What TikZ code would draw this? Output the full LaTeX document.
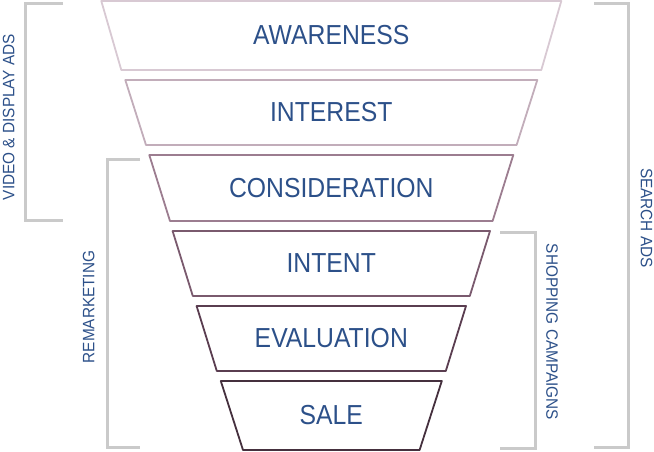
\documentclass[tikz,border=0pt]{standalone}
\usepackage{fontspec}
\setmainfont{Liberation Sans}
\newfontfamily\stagefont[FakeStretch=0.9]{Liberation Sans}
\newfontfamily\bracketfont[FakeStretch=0.93]{Liberation Sans}
\usetikzlibrary{positioning}

\definecolor{textblue}{HTML}{2C5089}
\definecolor{bracketgray}{HTML}{CACACA}
\definecolor{stageA}{HTML}{D8C9D3}
\definecolor{stageB}{HTML}{C2ADBA}
\definecolor{stageC}{HTML}{9C7D90}
\definecolor{stageD}{HTML}{7A5A6E}
\definecolor{stageE}{HTML}{5A3D50}
\definecolor{stageF}{HTML}{45303E}

\begin{document}
\begin{tikzpicture}[
    x=1pt, y=-1pt,
    every node/.style={align=center, text=textblue},
    funnel stage/.style={line width=1.8pt, line join=round},           % borde de cada etapa
    stage label/.style={font=\stagefont\fontsize{27.5}{27.5}\selectfont},
    bracket line/.style={draw=bracketgray, line width=3pt},            % corchetes grises
    bracket label/.style={font=\bracketfont\fontsize{16.5}{16.5}\selectfont, inner sep=0pt}
]
\useasboundingbox (0,0) rectangle (654,452);

% ---- Embudo: seis etapas ----
\foreach \ya/\yb/\wt/\wb/\col/\id/\txt in {
    1/70/230/210/stageA/awareness/AWARENESS,
    80/145/206/185.3/stageB/interest/INTEREST,
    155/221/182/161.3/stageC/consideration/CONSIDERATION,
    231/296/158.7/138.5/stageD/intent/INTENT,
    306/371/134.7/114.5/stageE/evaluation/EVALUATION,
    381/450/110.5/88.3/stageF/sale/SALE} {
  \draw[funnel stage, draw=\col] (331.3-\wt,\ya) -- (331.3+\wt,\ya)
      -- (331.3+\wb,\yb) -- (331.3-\wb,\yb) -- cycle;
  \node[stage label] (\id) at (331.3,{(\ya+\yb)/2}) {\txt};
}

% ---- Corchetes izquierdos ----
\draw[bracket line] (63,4) -- (25,4) -- (25,220) -- (63,220);
\node[bracket label, rotate=90] (video) at (8.8,117) {VIDEO \& DISPLAY ADS};

\draw[bracket line] (140,159) -- (107.7,159) -- (107.7,447.5) -- (140,447.5);
\node[bracket label, rotate=90] (remarketing) at (88.8,307) {REMARKETING};

% ---- Corchetes derechos ----
\draw[bracket line] (500,232) -- (535.7,232) -- (535.7,448) -- (500,448);
\node[bracket label, rotate=-90] (shopping) at (552,332) {SHOPPING CAMPAIGNS};

\draw[bracket line] (594,4) -- (628,4) -- (628,447) -- (594,447);
\node[bracket label, rotate=-90] (search) at (646.5,218) {SEARCH ADS};

\end{tikzpicture}
\end{document}
